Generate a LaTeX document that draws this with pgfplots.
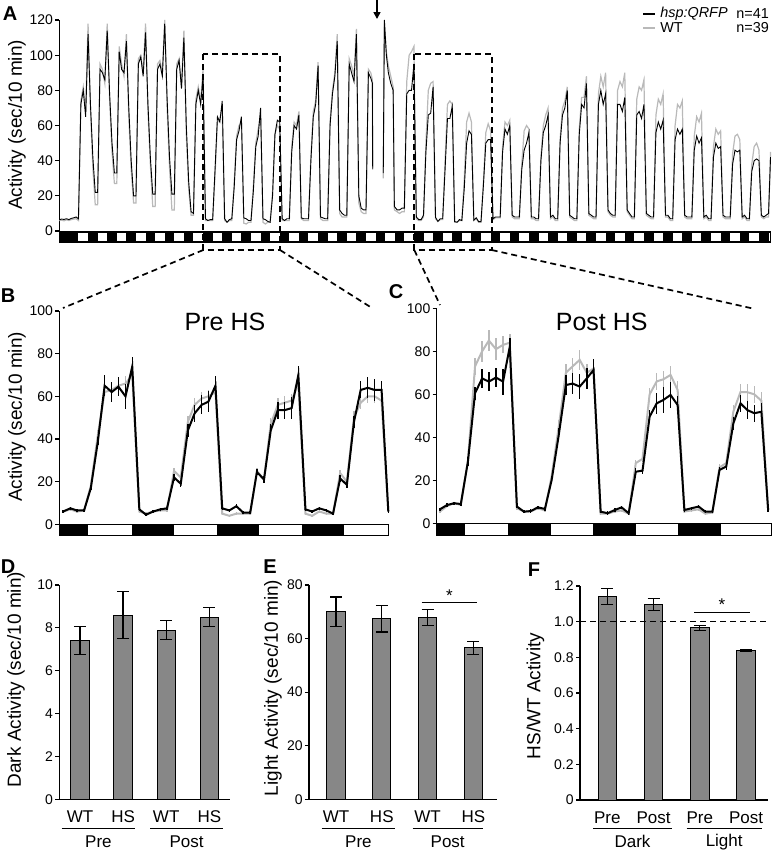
\documentclass[border=0pt]{standalone}
\usepackage{fontspec}
\setmainfont{Liberation Sans}
\usepackage{pgfplots}
\usepackage{pgfplotstable}
\pgfplotsset{compat=1.18}
\usetikzlibrary{arrows.meta}
\definecolor{wtgray}{RGB}{185,185,185}
\definecolor{barfill}{RGB}{135,135,135}
\newcommand{\tickf}{\fontsize{7}{8}\selectfont}
\newcommand{\labf}{\fontsize{9.5}{11}\selectfont}
\newcommand{\catf}{\fontsize{8.5}{10}\selectfont}
\newcommand{\titf}{\fontsize{12.5}{14}\selectfont}
\newcommand{\letf}{\fontsize{10}{12}\selectfont\bfseries}
\newcommand{\legf}{\fontsize{7.2}{8}\selectfont}

\pgfplotstableread{
t hs wt
0 6.5 6
3 6.8 6.2
6 6.6 5.8
9 7 6.4
12 6.5 6
15 7.2 6.5
18 7.5 6.8
21 8 7
24 7 6
27 72 74
30 80 82
33 65 68
36 112 118
39 72 70
42 42 36
45 22 15
48 22 15
51 92 95
54 90 92
57 86 84
60 114 118
63 78 75
66 50 45
69 33 27
72 33 27
75 102 105
78 92 95
81 90 88
84 108 112
87 70 65
90 40 35
93 20 16
96 20 16
99 95 98
102 99 100
105 88 90
108 113 118
111 72 68
114 42 38
117 21 14
120 21 14
123 92 95
126 95 97
129 88 90
132 118 120
135 75 70
138 42 36
141 21 12
144 21 12
147 92 95
150 97 98
153 81 82
156 110 114
159 60 55
162 28 24
165 11 9
168 10 9
171 72 75
174 80 82
177 72 74
180 88 92
183 7 6
186 6 6
189 6.5 6
192 6.5 6
195 35 32
198 65 62
201 62 64
204 74 70
207 7 6
210 5 5
213 6.5 6
216 7 6
219 25 28
222 52 54
225 57 60
228 65 62
231 7.5 4.5
234 7 4
237 6 5
240 6 5
243 23 26
246 48 50
249 54 58
252 70 66
255 7 5
258 6.5 4
261 5.5 5
264 5 5
267 20 22
270 55 55
273 63 60
276 62 58
279 7 6
282 6 6
285 7 6
288 7 6
291 45 48
294 60 62
297 58 60
300 66 68
303 7.5 7
306 7 6
309 7 6
312 7 6
315 40 42
318 65 68
321 72 74
324 94 96
327 8 7
330 7.5 6
333 7 6
336 7 6
339 60 62
342 78 80
345 88 90
348 108 112
351 12 10
354 10 8
357 9 8
360 9 8
363 95 98
366 90 94
369 85 88
372 112 115
375 20 16
378 13 11
381 12 10
384 12 10
387 90 92
390 87 90
392 84 86
392.4 35 36
399 nan nan
405.6 33 30
407 120 118
409.5 100 102
412 90 94
415 84 88
418 80 82
419.5 14 12
423 12 11
426 12 10
429 13 11
432 13 11
435 78 85
438 80 100
441 80 102
444 95 105
447 8 7
450 6.5 6
453 6.5 6
456 9 8
459 45 50
462 66 80
465 67 84
468 82 85
471 7.8 7
474 5.5 5.5
477 7 6.5
480 7 6.5
483 35 40
486 64 72
489 64 74
492 71 72
495 5.4 5
498 5 5
501 6.5 6
504 6 6
507 24 29
510 50 62
513 57 67
516 55 62
519 6.2 6
522 7.5 7
525 5.4 5
528 5.4 5
531 26 28
534 50 56
537 52 61
540 52 57
543 7 6.5
546 8 7.5
549 8 7.5
552 8 7.5
555 45 48
558 58 62
561 55 60
564 60 63
567 9 8
570 8 7
573 8 7
576 8 7
579 35 38
582 46 57
585 50 60
588 56 58
591 8 7
594 8 7
597 7 6
600 7 6
603 40 42
606 56 60
609 60 66
612 66 70
615 8 7
618 9 8
621 7 6
624 7 6
627 50 52
630 66 70
633 70 74
636 80 82
639 9 8
642 8 7
645 7 6
648 7 6
651 55 58
654 72 76
657 70 76
660 84 88
663 10 9
666 9 8
669 8 7
672 8 7
675 72 78
678 80 88
681 72 82
684 78 90
687 12 11
690 10 9
693 9 8
696 9 8
699 72 80
702 72 85
705 68 82
708 76 90
711 12 11
714 10 9
717 8 7
720 8 7
723 66 75
726 68 82
729 64 80
732 72 86
735 10 9
738 9 8
741 8 7
744 8 7
747 56 66
750 62 75
753 58 72
756 63 78
759 9 8
762 9 8
765 7 6
768 7 6
771 52 60
774 58 72
777 55 70
780 58 74
783 9 8
786 8 7
789 8 7
792 8 7
795 46 54
798 54 65
801 50 62
804 53 67
807 8 7
810 9 8
813 7 6
816 7 6
819 42 48
822 50 58
825 47 55
828 48 57
831 9 8
834 8 7
837 8 7
840 8 7
843 38 44
846 46 54
849 45 55
852 46 52
855 8 7
858 9 8
861 7 6
864 7 6
867 34 38
870 40 48
873 41 50
876 40 46
879 9 8
882 8 7
885 9 8
888 10 8
890.5 42 45
}\Adata

\pgfplotstableread{
t hs hse wt wte
1.1 6 0.8 6 0.6
3.1 7.5 0.8 7 0.6
5.0 6.5 0.8 6 0.6
7.0 6.5 0.8 6.5 0.6
8.9 17 1 18 1
10.9 39 2 42 2
12.8 65 5 62 3
14.8 62 4.5 63 3
16.7 64.5 4.5 65 3
18.7 60 6 66 3.5
20.6 74 4.5 70 4
22.6 7 0.8 6 0.6
24.5 4.5 0.8 5 0.6
26.5 6 0.8 6 0.6
28.5 7 0.8 6.5 0.6
30.4 7.5 0.8 6.5 0.6
32.4 22 1.5 25 1.5
34.3 19 1.5 22 1.5
36.3 44 3 48 3
38.2 52 4 56 3
40.2 56 4.5 59 3
42.1 57.5 5 60 3
44.1 65 4.5 62 3
46.0 7.5 0.8 5 0.6
48.0 6.5 0.8 4 0.6
50.0 8.5 0.8 5 0.6
51.9 5.5 0.8 5 0.6
53.9 5.5 0.8 5 0.6
55.8 24.5 1.5 25 1.5
57.8 21 1.5 21 1.5
59.7 44 3 47 3
61.7 53.5 4 56 3
63.6 53.5 4 57 3
65.6 54.5 5 58 3
67.5 70 4 66 3
69.5 7 0.8 5 0.6
71.4 6 0.8 4 0.6
73.4 7.5 0.8 6 0.6
75.4 6.5 0.8 5 0.6
77.3 5 0.8 5 0.6
79.3 21.5 1.5 24 1.5
81.2 18.5 1.5 20 1.5
83.2 48 3 50 3
85.1 63 4 57 3
87.1 64 5 60 3
89.0 63 5 60 3
91.0 63 4 58 3
92.9 6 0.8 6 0.6
}\Bdata

\pgfplotstableread{
t hs hse wt wte
0.9 6.5 0.8 5.5 0.6
2.9 8.5 0.8 8 0.6
4.9 9.3 0.8 9.5 0.6
6.8 9 0.8 8.5 0.6
8.8 28.7 2 29 2
10.8 60.5 3 73 4
12.8 67.4 4.5 80 5
14.7 65.9 4.5 85 5
16.7 67.8 4.5 81 5
18.7 65.9 6 83 4
20.6 82.2 4 84 4
22.6 7.8 0.8 7 0.6
24.6 5.4 0.8 5.5 0.6
26.5 5.7 0.8 5.5 0.6
28.5 7.4 0.8 7 0.6
30.5 6.7 0.8 6 0.6
32.4 20.2 1.5 22 1.5
34.4 41.1 3 45 3
36.4 64.3 4.5 70 4
38.3 65 5 73 4
40.3 63.6 6 76 4.5
42.3 67.4 5 70 4
44.2 71.3 5 72 4
46.2 5.4 0.8 4.5 0.6
48.2 4.7 0.8 4.5 0.6
50.2 6.2 0.8 5.5 0.6
52.1 7.4 0.8 6 0.6
54.1 4.7 0.8 4.5 0.6
56.1 24 1.5 28 1.5
58.0 24.5 1.5 30 1.5
60.0 49.6 3 60 3
62.0 55.8 5 66 4
63.9 57.4 6 67 4
65.9 59.7 6 69 4
67.9 55 4 62 4
69.8 6.2 0.8 5.5 0.6
71.8 7 0.8 6 0.6
73.8 7.8 0.8 6.5 0.6
75.7 5.4 0.8 4.5 0.6
77.7 5.4 0.8 5 0.6
79.7 24.8 1.5 26 1.5
81.6 26.4 1.5 28 1.5
83.6 46.5 3 52 3
85.6 55.8 4 61 4
87.5 52.7 4 61 4
89.5 51.2 4 60 4
91.5 51.9 4 57 4
93.4 6.2 0.8 6 0.6
}\Cdata

\pgfplotsset{panel/.style={scale only axis, anchor=south west, clip=false,
  axis line style={line width=0.6pt},
  every tick/.style={black,line width=0.6pt},
  major tick length=2pt, tick align=outside,
  /pgf/number format/assume math mode=true,
  yticklabel style={font=\tickf, inner sep=1pt}},
  barplot/.style={fill=barfill, draw=black, line width=0.5pt,
  error bars/.cd, y dir=both, y explicit,
  error bar style={line width=0.6pt,black},
  error mark options={rotate=90, line width=0.6pt, mark size=3pt, black}}
}

\begin{document}
\begin{tikzpicture}
\path[use as bounding box] (0pt,0pt) rectangle (389.5pt,-426.5pt);

% ---------------- Panel A
\begin{axis}[panel, at={(29.65pt,-121.5pt)}, width=355.7pt, height=111.5pt,
  xmin=0, xmax=890.7, ymin=-6.8, ymax=120,
  axis x line=none, axis y line*=left, ytick={0,20,...,120},
  unbounded coords=jump]
\fill[black] (axis cs:0,-6.8) rectangle (axis cs:890.7,0);
\pgfplotsinvokeforeach{0,...,35}{\fill[white] (axis cs:{24+24*#1},-5.6) rectangle (axis cs:{36+24*#1},-1.3);}
\fill[white] (axis cs:888,-5.6) rectangle (axis cs:889.8,-1.3);
\addplot[wtgray, line width=0.6pt] table[x=t,y=wt]{\Adata};
\addplot[black, line width=0.45pt] table[x=t,y=hs]{\Adata};
\end{axis}

% ---------------- Panel B
\begin{axis}[panel, at={(29.65pt,-267.85pt)}, width=164.5pt, height=112.35pt,
  xmin=0, xmax=92.9, ymin=-5.34, ymax=100,
  axis x line=none, axis y line*=left, ytick={0,20,...,100}]
\filldraw[fill=white,draw=black,line width=0.5pt] (axis cs:0,-5.34) rectangle (axis cs:92.9,0);
\fill[black] (axis cs:0,-5.34) rectangle (axis cs:8.2,0);
\fill[black] (axis cs:20.4,-5.34) rectangle (axis cs:32.4,0);
\fill[black] (axis cs:44.4,-5.34) rectangle (axis cs:56.5,0);
\fill[black] (axis cs:68.4,-5.34) rectangle (axis cs:80.4,0);
\addplot[wtgray, line width=1pt, error bars/.cd, y dir=both, y explicit, error mark=none, error bar style={line width=0.7pt}] table[x=t,y=wt,y error=wte]{\Bdata};
\addplot[black, line width=1pt, error bars/.cd, y dir=both, y explicit, error mark=none, error bar style={line width=0.7pt}] table[x=t,y=hs,y error=hse]{\Bdata};
\end{axis}

% ---------------- Panel C
\begin{axis}[panel, at={(218.35pt,-267.5pt)}, width=167.5pt, height=113.35pt,
  xmin=0, xmax=94.4, ymin=-5.44, ymax=100,
  axis x line=none, axis y line*=left, ytick={0,20,...,100}]
\filldraw[fill=white,draw=black,line width=0.5pt] (axis cs:0,-5.44) rectangle (axis cs:94.4,0);
\fill[black] (axis cs:0,-5.44) rectangle (axis cs:8.0,0);
\fill[black] (axis cs:20.2,-5.44) rectangle (axis cs:32.2,0);
\fill[black] (axis cs:44.1,-5.44) rectangle (axis cs:56.2,0);
\fill[black] (axis cs:68.1,-5.44) rectangle (axis cs:80.1,0);
\addplot[wtgray, line width=1pt, error bars/.cd, y dir=both, y explicit, error mark=none, error bar style={line width=0.7pt}] table[x=t,y=wt,y error=wte]{\Cdata};
\addplot[black, line width=1pt, error bars/.cd, y dir=both, y explicit, error mark=none, error bar style={line width=0.7pt}] table[x=t,y=hs,y error=hse]{\Cdata};
\end{axis}

% ---------------- Panel D
\begin{axis}[panel, at={(29.65pt,-399.65pt)}, width=85.35pt, height=107.15pt,
  xmin=0.52, xmax=4.48, ymin=0, ymax=10,
  axis x line*=bottom, axis y line*=left, xtick=\empty, ytick={0,2,...,10},
  ybar, bar width=0.425]
\addplot[barplot] table[x=x,y=y,y error=e]{
x y e
1 7.4 0.65
2 8.6 1.08
3 7.9 0.45
4 8.5 0.45
};
\node[font=\catf] at (axis cs:1,0) [yshift=-8.7pt] {WT};
\node[font=\catf] at (axis cs:2,0) [yshift=-8.7pt] {HS};
\node[font=\catf] at (axis cs:3,0) [yshift=-8.7pt] {WT};
\node[font=\catf] at (axis cs:4,0) [yshift=-8.7pt] {HS};
\end{axis}

% ---------------- Panel E
\begin{axis}[panel, at={(154.5pt,-399.65pt)}, width=93.85pt, height=107.15pt,
  xmin=0.41, xmax=4.51, ymin=0, ymax=80,
  axis x line*=bottom, axis y line*=left, xtick=\empty, ytick={0,20,...,80},
  ybar, bar width=0.4]
\addplot[barplot] table[x=x,y=y,y error=e]{
x y e
1 70 5.5
2 67.5 5
3 68 3
4 56.5 2.3
};
\draw[line width=0.6pt] (axis cs:2.87,73.5) -- (axis cs:4.09,73.5);
\node[font=\catf, anchor=south, inner sep=0.5pt] at (axis cs:3.48,73.5) {*};
\node[font=\catf] at (axis cs:1,0) [yshift=-8.7pt] {WT};
\node[font=\catf] at (axis cs:2,0) [yshift=-8.7pt] {HS};
\node[font=\catf] at (axis cs:3,0) [yshift=-8.7pt] {WT};
\node[font=\catf] at (axis cs:4,0) [yshift=-8.7pt] {HS};
\end{axis}

% ---------------- Panel F
\begin{axis}[panel, at={(290pt,-400pt)}, width=94.15pt, height=107pt,
  xmin=0.41, xmax=4.48, ymin=0, ymax=1.2,
  axis x line*=bottom, axis y line*=left, xtick=\empty,
  ytick={0,0.2,0.4,0.6,0.8,1.0,1.2}, yticklabels={0,0.2,0.4,0.6,0.8,1.0,1.2},
  ybar, bar width=0.4]
\addplot[barplot] table[x=x,y=y,y error=e]{
x y e
1 1.14 0.045
2 1.095 0.033
3 0.965 0.013
4 0.84 0.005
};
\draw[line width=0.7pt, dash pattern=on 3pt off 2pt] (axis cs:0.41,1) -- (axis cs:4.48,1);
\draw[line width=0.6pt] (axis cs:2.88,1.053) -- (axis cs:4.09,1.053);
\node[font=\catf, anchor=south, inner sep=0.5pt] at (axis cs:3.48,1.053) {*};
\node[font=\catf] at (axis cs:1,0) [yshift=-8.7pt] {Pre};
\node[font=\catf] at (axis cs:2,0) [yshift=-8.7pt] {Post};
\node[font=\catf] at (axis cs:3,0) [yshift=-8.7pt] {Pre};
\node[font=\catf] at (axis cs:4,0) [yshift=-8.7pt] {Post};
\end{axis}

% ---------------- annotations
\begin{scope}[line width=0.85pt, dash pattern=on 3pt off 2pt]
\draw (101.65pt,-27.15pt) rectangle (140pt,-125pt);
\draw (207.15pt,-27.15pt) rectangle (245.85pt,-125pt);
\draw (101.65pt,-125pt) -- (31.5pt,-154pt);
\draw (140pt,-125pt) -- (186pt,-154pt);
\draw (207.15pt,-125pt) -- (220pt,-152.5pt);
\draw (245.85pt,-125pt) -- (377.5pt,-154.5pt);
\end{scope}
\draw[line width=0.8pt, -{Triangle[length=3.5pt,width=3.5pt]}] (188.5pt,0pt) -- (188.5pt,-9.5pt);

% legend
\draw[black, line width=1pt] (321.7pt,-7pt) -- (327.5pt,-7pt);
\draw[wtgray, line width=1pt] (321.7pt,-14pt) -- (327.5pt,-14pt);
\node[font=\legf, anchor=west, inner sep=0pt] at (330pt,-7pt) {\textit{hsp:QRFP}};
\node[font=\legf, anchor=west, inner sep=0pt] at (368pt,-7pt) {n=41};
\node[font=\legf, anchor=west, inner sep=0pt] at (330pt,-14pt) {WT};
\node[font=\legf, anchor=west, inner sep=0pt] at (368pt,-14pt) {n=39};

% titles
\node[font=\titf] at (112.5pt,-160.85pt) {Pre HS};
\node[font=\titf] at (300.85pt,-160.85pt) {Post HS};

% y labels
\node[font=\labf, rotate=90] at (8.5pt,-62.5pt) {Activity (sec/10 min)};
\node[font=\labf, rotate=90] at (8.5pt,-208.5pt) {Activity (sec/10 min)};
\node[font=\labf, rotate=90] at (8pt,-339.8pt) {Dark Activity (sec/10 min)};
\node[font=\labf, rotate=90] at (136.5pt,-344pt) {Light Activity (sec/10 min)};
\node[font=\labf, rotate=90] at (267.75pt,-348pt) {HS/WT Activity};

% group lines and labels
\begin{scope}[line width=0.5pt]
\draw (30.85pt,-414pt) -- (67.5pt,-414pt);
\draw (75pt,-414pt) -- (111.65pt,-414pt);
\draw (160.85pt,-414pt) -- (197.5pt,-414pt);
\draw (206.35pt,-414pt) -- (241.35pt,-414pt);
\draw (296.65pt,-414pt) -- (335.85pt,-414pt);
\draw (343.35pt,-414pt) -- (380.85pt,-414pt);
\end{scope}
\node[font=\catf] at (49.2pt,-420.85pt) {Pre};
\node[font=\catf] at (93.3pt,-420.85pt) {Post};
\node[font=\catf] at (179.2pt,-420.85pt) {Pre};
\node[font=\catf] at (223.85pt,-420.85pt) {Post};
\node[font=\catf] at (316.25pt,-420.85pt) {Dark};
\node[font=\catf] at (362.1pt,-420.85pt) {Light};

% panel letters
\node[font=\letf] at (5pt,-7pt) {A};
\node[font=\letf] at (4pt,-148pt) {B};
\node[font=\letf] at (198pt,-146pt) {C};
\node[font=\letf] at (4pt,-283.5pt) {D};
\node[font=\letf] at (135pt,-283.5pt) {E};
\node[font=\letf] at (267pt,-285pt) {F};
\end{tikzpicture}
\end{document}
